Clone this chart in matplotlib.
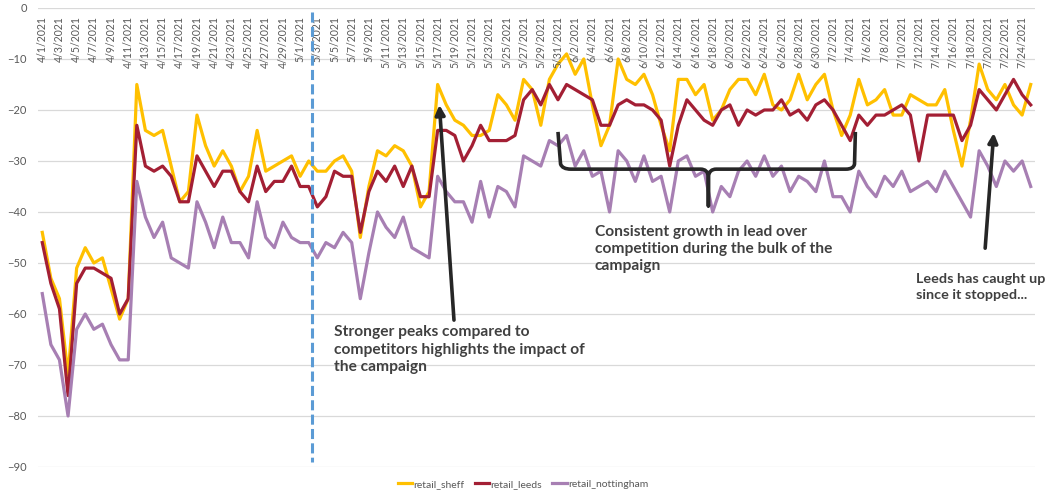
import numpy as np
import pandas as pd
import matplotlib
matplotlib.use("Agg")
import matplotlib.pyplot as plt
from matplotlib.path import Path
from matplotlib.patches import PathPatch

# daily values, 4/1/2021 .. 7/25/2021
dates = pd.date_range("2021-04-01", periods=116)

retail_sheff = [
    -44, -53, -57, -72, -51, -47, -50, -49, -55, -61, -57, -15, -24, -25, -24, -31,
    -38, -36, -21, -27, -31, -28, -31, -36, -33, -24, -32, -31, -30, -29, -33, -30,
    -32, -32, -30, -29, -32, -45, -35, -28, -29, -27, -28, -31, -39, -36, -15, -19,
    -22, -23, -25, -25, -24, -17, -19, -22, -14, -16, -23, -14, -11, -9, -13, -10,
    -19, -27, -23, -10, -14, -15, -13, -17, -23, -28, -14, -14, -17, -15, -22, -20,
    -16, -14, -14, -17, -13, -19, -20, -18, -13, -18, -15, -13, -20, -25, -21, -14,
    -19, -18, -16, -21, -21, -17, -18, -19, -19, -16, -24, -31, -22, -11, -16, -18,
    -15, -19, -21, -15,
]
retail_leeds = [
    -46, -54, -59, -76, -54, -51, -51, -52, -53, -60, -57, -23, -31, -32, -31, -33,
    -38, -38, -29, -32, -35, -32, -32, -36, -38, -31, -36, -34, -34, -31, -35, -35,
    -39, -37, -32, -33, -33, -44, -36, -32, -34, -31, -35, -31, -37, -37, -24, -24,
    -25, -30, -27, -23, -26, -26, -26, -25, -18, -16, -19, -15, -18, -15, -16, -17,
    -18, -23, -23, -19, -18, -19, -19, -20, -22, -31, -23, -18, -20, -22, -23, -20,
    -19, -23, -20, -21, -20, -20, -18, -21, -20, -22, -19, -18, -20, -23, -26, -21,
    -23, -21, -21, -20, -19, -21, -30, -21, -21, -21, -21, -26, -23, -16, -18, -20,
    -17, -14, -17, -19,
]
retail_nottingham = [
    -56, -66, -69, -80, -63, -60, -63, -62, -66, -69, -69, -34, -41, -45, -42, -49,
    -50, -51, -38, -42, -47, -41, -46, -46, -49, -38, -45, -47, -42, -45, -46, -46,
    -49, -46, -47, -44, -46, -57, -48, -40, -43, -45, -41, -47, -48, -49, -33, -36,
    -38, -38, -42, -34, -41, -35, -36, -39, -29, -30, -31, -26, -27, -25, -31, -28,
    -33, -32, -40, -28, -30, -34, -29, -34, -33, -40, -30, -29, -33, -32, -40, -35,
    -37, -32, -30, -33, -29, -33, -31, -36, -33, -34, -36, -30, -37, -37, -40, -32,
    -35, -37, -33, -35, -32, -36, -35, -34, -36, -32, -35, -38, -41, -28, -31, -35,
    -30, -32, -30, -35,
]

series = [
    ("retail_sheff", retail_sheff, "#FFC000"),
    ("retail_leeds", retail_leeds, "#A31F34"),
    ("retail_nottingham", retail_nottingham, "#A77FB3"),
]

campaign_end = 31.4  # dashed marker between 5/2 and 5/3

TEXT_GREY = "#595959"
NOTE = "#404040"

plt.rcParams["font.family"] = ["Lato", "DejaVu Sans"]

fig = plt.figure(figsize=(10.46, 4.96), dpi=100)
ax = fig.add_axes([0.0363, 0.0585, 0.9532, 0.9254])

x = np.arange(len(dates))
for name, vals, col in series:
    ax.plot(x, vals, color=col, lw=2.3, label=name, solid_joinstyle="round", zorder=3)

ax.set_xlim(-0.5, len(dates) - 0.5)
ax.set_ylim(-90, 0)
ax.set_yticks(np.arange(-90, 1, 10))
ax.grid(axis="y", color="#D9D9D9", lw=0.9)
ax.set_axisbelow(True)
for s in ax.spines.values():
    s.set_visible(False)
ax.tick_params(axis="y", length=0, labelsize=8, labelcolor=TEXT_GREY, pad=8)
ax.set_xticks([])

# category labels hang under the zero line
for i in range(0, len(dates), 2):
    d = dates[i]
    ax.text(i, 0.983, f"{d.month}/{d.day}/{d.year}", transform=ax.get_xaxis_transform(),
            rotation=90, ha="center", va="top", fontsize=7.6, color=TEXT_GREY)

# campaign stop marker
ax.plot([campaign_end, campaign_end], [-0.8, -89], color="#5B9BD5", lw=2.2,
        dashes=(3.3, 1.4), zorder=4)

arrow = dict(arrowstyle="-|>", color="#262626", lw=2.6, mutation_scale=14,
             shrinkA=0, shrinkB=0)
ax.annotate("", xy=(46.2, -19.0), xytext=(47.9, -61.2), arrowprops=arrow, zorder=5)
ax.annotate("", xy=(110.7, -24.5), xytext=(109.7, -47.1), arrowprops=arrow, zorder=5)

note_style = dict(fontsize=11.2, fontweight="bold", color=NOTE, va="top", linespacing=1.3)
ax.text(33.9, -62.2, "Stronger peaks compared to\ncompetitors highlights the impact of\nthe campaign",
        **note_style)
ax.text(64.3, -42.5, "Consistent growth in lead over\ncompetition during the bulk of the\ncampaign",
        **note_style)
ax.text(101.6, -52.0, "Leeds has caught up\nsince it stopped...",
        fontsize=10.4, fontweight="bold", color=NOTE, va="top", linespacing=1.4,
        clip_on=False)

# curly bracket under the campaign period
verts = [
    (60.0, -24.3), (60.3, -30.6), (60.5, -31.6), (61.5, -31.6),
    (76.6, -31.6), (77.4, -31.6), (77.5, -33.0), (77.5, -38.8),
    (77.5, -33.0), (77.6, -31.6), (78.4, -31.6),
    (93.5, -31.6), (94.4, -31.6), (94.5, -30.6), (94.6, -24.3),
]
codes = [
    Path.MOVETO, Path.LINETO, Path.CURVE3, Path.CURVE3,
    Path.LINETO, Path.CURVE3, Path.CURVE3, Path.LINETO,
    Path.LINETO, Path.CURVE3, Path.CURVE3,
    Path.LINETO, Path.CURVE3, Path.CURVE3, Path.LINETO,
]
ax.add_patch(PathPatch(Path(verts, codes), fill=False, ec="#262626", lw=2.6,
                       capstyle="butt", joinstyle="round", zorder=5))

leg = fig.legend(loc="lower center", bbox_to_anchor=(0.5, -0.005), ncol=3, frameon=False,
                 fontsize=7.5, handlelength=1.4, handletextpad=0.1, columnspacing=1.0)
for t in leg.get_texts():
    t.set_color(TEXT_GREY)

fig.savefig("out.png", dpi=100)
